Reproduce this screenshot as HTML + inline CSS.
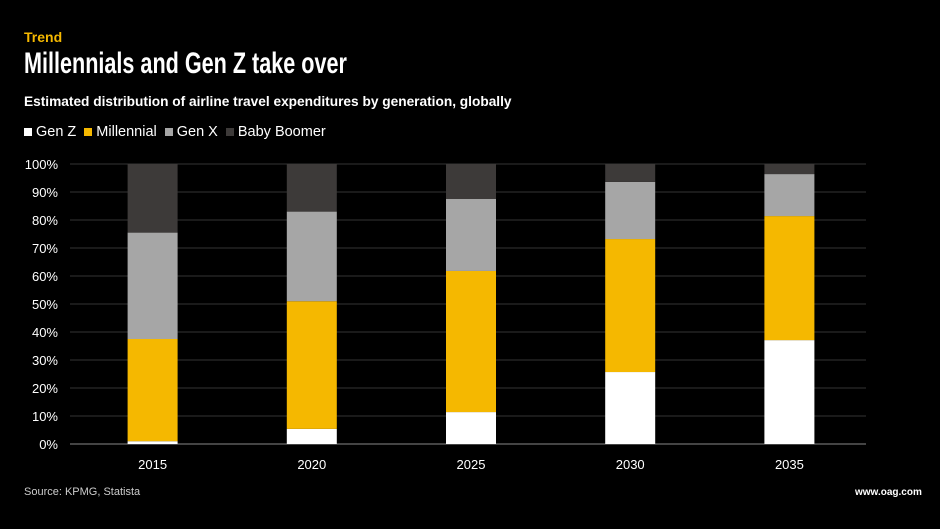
<!DOCTYPE html>
<html><head><meta charset="utf-8"><style>
html,body{margin:0;padding:0;background:#000;}
body{width:940px;height:529px;overflow:hidden;position:relative;font-family:"Liberation Sans",sans-serif;color:#fff;}
.t{position:absolute;white-space:nowrap;}
</style></head><body>
<div class="t" style="left:24px;top:29px;font-size:14px;font-weight:bold;color:#f5b800;">Trend</div>
<div class="t" style="left:24px;top:47px;font-size:30px;font-weight:bold;transform:scaleX(0.72);transform-origin:left top;">Millennials and Gen Z take over</div>
<div class="t" style="left:24px;top:94px;font-size:13.7px;font-weight:bold;">Estimated distribution of airline travel expenditures by generation, globally</div>
<div id="legend" style="position:absolute;left:24px;top:124px;font-size:14.5px;display:flex;gap:8px;">
<span><span style="display:inline-block;width:8px;height:8px;background:#fff;margin-right:4px;"></span>Gen Z</span>
<span><span style="display:inline-block;width:8px;height:8px;background:#f5b800;margin-right:4px;"></span>Millennial</span>
<span><span style="display:inline-block;width:8px;height:8px;background:#a6a6a6;margin-right:4px;"></span>Gen X</span>
<span><span style="display:inline-block;width:8px;height:8px;background:#3d3a39;margin-right:4px;"></span>Baby Boomer</span>
</div>
<svg id="chart" width="940" height="529" style="position:absolute;left:0;top:0;"></svg>
<div class="t" style="left:24px;top:486px;font-size:11px;color:#ccc;">Source: KPMG, Statista</div>
<div class="t" style="left:855px;top:487px;font-size:10px;font-weight:bold;">www.oag.com</div>
<script>
const categories=["2015","2020","2025","2030","2035"];
const genZ=[1,5.4,11.4,25.7,37.1];
const millennial=[36.5,45.6,50.4,47.5,44.3];
const genX=[38,32,25.7,20.4,15];
const boomer=[24.5,17,12.5,6.4,3.6];
const yTicks=[0,10,20,30,40,50,60,70,80,90,100];
const series=[["gen-z",genZ,"#ffffff"],["millennial",millennial,"#f5b800"],["gen-x",genX,"#a6a6a6"],["baby-boomer",boomer,"#3d3a39"]];
const svg=document.getElementById('chart');
const NS="http://www.w3.org/2000/svg";
const y0=444,y1=164,x0=70,x1=866;
const y=v=>y0-(v/100)*(y0-y1);
const step=(x1-x0)/categories.length;
const xc=i=>x0+step*(i+0.5)+3;
const bw=50;
function mk(t,a){const e=document.createElementNS(NS,t);for(const k in a)e.setAttribute(k,a[k]);svg.appendChild(e);return e;}
yTicks.forEach(v=>{
 const l=mk('line',{x1:x0,x2:x1,y1:y(v),y2:y(v),stroke:v===0?'#888':'#333','stroke-width':1});
 
 
 const t=mk('text',{x:58,y:y(v)+5,'text-anchor':'end',fill:'#fff','font-size':13,'font-family':'Liberation Sans, sans-serif'});
 t.textContent=v+'%';
 
 
});
categories.forEach((c,i)=>{
 let cum=0;
 series.forEach(s=>{
  const v=s[1][i];
  const r=mk('rect',{x:xc(i)-bw/2,y:y(cum+v),width:bw,height:y(cum)-y(cum+v),fill:s[2]});
  
  
  cum+=v;
 });
 const t=mk('text',{x:xc(i),y:469,'text-anchor':'middle',fill:'#fff','font-size':13,'font-family':'Liberation Sans, sans-serif'});
 t.textContent=c;
 
 
});
</script>
</body></html>
